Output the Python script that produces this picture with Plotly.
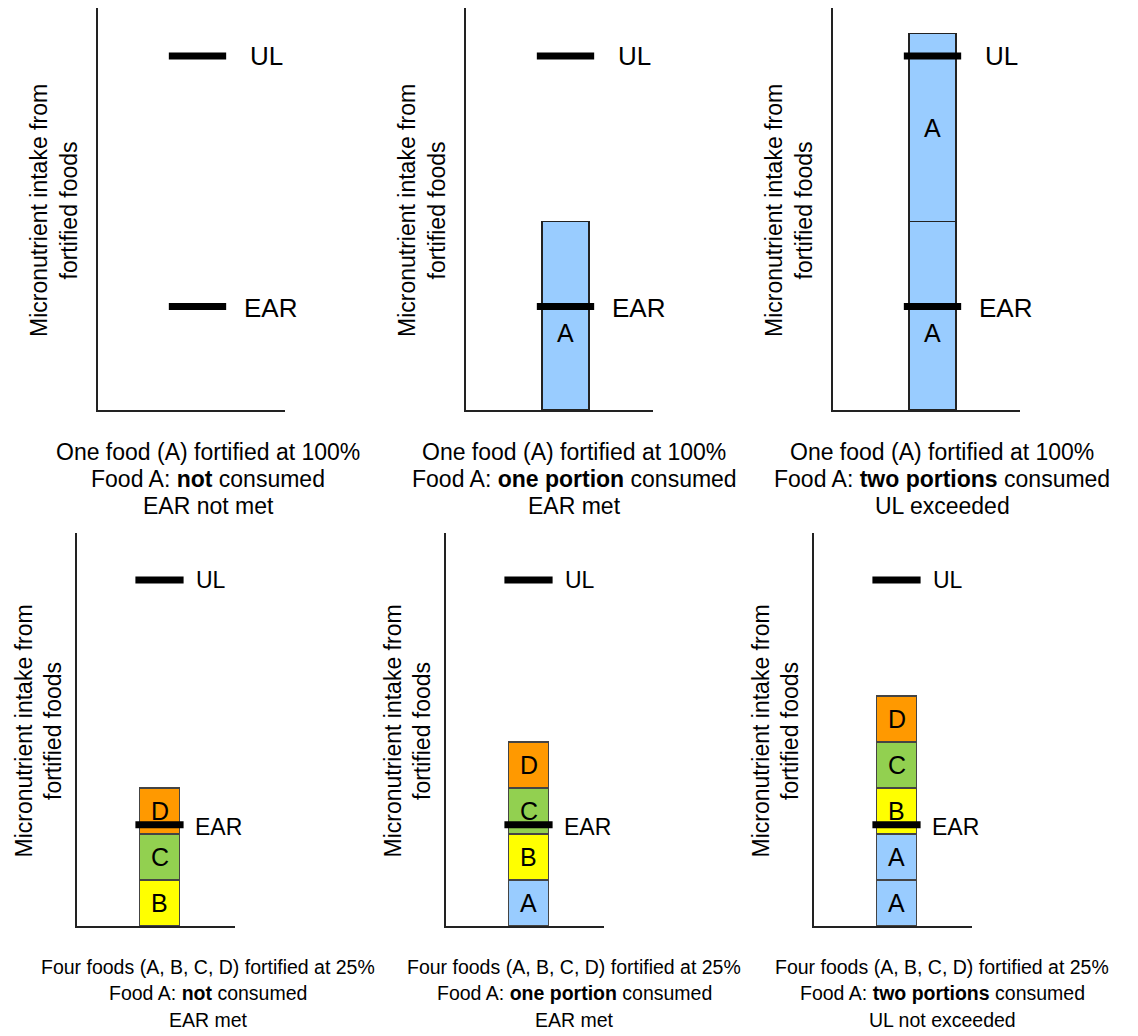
import plotly.graph_objects as go

W, H = 1138, 1036
OFF = 8  # page body margin in the browser
FW, FH = W - OFF, H - OFF

# ---------------- data ----------------
FOOD_COLORS = {"A": "#99CCFF", "B": "#FFFF00", "C": "#92D050", "D": "#FF9900"}
EAR = 55          # estimated average requirement (relative units, 1 portion of A at 100% = 100)
UL = 188          # tolerable upper intake level
Y_MAX = 213.5

panel_foods = [
    [],
    ["A"],
    ["A", "A"],
    ["B", "C", "D"],
    ["A", "B", "C", "D"],
    ["A", "A", "B", "C", "D"],
]
panel_values = [
    [],
    [100],
    [100, 100],
    [25, 25, 25],
    [25, 25, 25, 25],
    [25, 25, 25, 25, 25],
]
subtitle_line1 = ["One food (A) fortified at 100%"] * 3 + \
                 ["Four foods (A, B, C, D) fortified at 25%"] * 3
subtitle_line2 = [
    "Food A: <b>not</b> consumed",
    "Food A: <b>one portion</b> consumed",
    "Food A: <b>two portions</b> consumed",
    "Food A: <b>not</b> consumed",
    "Food A: <b>one portion</b> consumed",
    "Food A: <b>two portions</b> consumed",
]
subtitle_line3 = ["EAR not met", "EAR met", "UL exceeded",
                  "EAR met", "EAR met", "UL not exceeded"]
y_title = "Micronutrient intake from<br>fortified foods"

# ---------------- layout constants (page pixels) ----------------
axis_left = [98, 466, 833, 77, 446, 814]
axis_width = [187, 187, 187, 158, 158, 158]
row_top = [8, 8, 8, 533, 533, 533]
row_bottom = [410, 410, 410, 926, 926, 926]
bar_center_rel = [99.5] * 3 + [82.5] * 3
bar_width_px = [47] * 3 + [39.5] * 3
ytitle_off = [44] * 3 + [39] * 3
sub_cx = [208, 574, 942] * 2
sub_y = [[452, 479, 506]] * 3 + [[967, 993, 1020]] * 3
ul_label_px = [150] * 3 + [116.5] * 3
ear_label_px = [144] * 3 + [116] * 3

ARIAL = "Liberation Sans, Arial, sans-serif"


def px_x(px):
    return min(1.0, max(0.0, (px - OFF) / FW))


def px_y(px):
    return min(1.0, max(0.0, 1 - (px - OFF) / FH))


fig = go.Figure()
annotations = []
layout = {}

for i in range(6):
    n = "" if i == 0 else str(i + 1)
    xa, ya = "x" + n, "y" + n
    top_row = i < 3
    ppu = bar_width_px[i]  # pixels per x unit (bar width = 1 unit)
    x_lo = -bar_center_rel[i] / ppu
    x_hi = (axis_width[i] - bar_center_rel[i]) / ppu
    line_col = "#222222" if top_row else "#444444"
    layout["xaxis" + n] = dict(
        domain=[px_x(axis_left[i]), px_x(axis_left[i] + axis_width[i])],
        range=[x_lo, x_hi], anchor=ya, showline=True, linecolor="#222222",
        linewidth=1.5, showticklabels=False, ticks="", showgrid=False,
        zeroline=False, fixedrange=True,
    )
    layout["yaxis" + n] = dict(
        domain=[px_y(row_bottom[i]), px_y(row_top[i])],
        range=[0, Y_MAX], anchor=xa, showline=True, linecolor="#222222",
        linewidth=1.5, showticklabels=False, ticks="", showgrid=False,
        zeroline=False, fixedrange=True,
    )

    seg_font = dict(family=ARIAL, size=25, color="black")
    lbl_font = dict(family=ARIAL, size=26 if top_row else 23, color="black")

    base = 0
    for food, v in zip(panel_foods[i], panel_values[i]):
        fig.add_trace(go.Bar(
            x=[0], y=[v], width=[1], xaxis=xa, yaxis=ya,
            marker=dict(color=FOOD_COLORS[food], line=dict(color=line_col, width=1.2)),
            hoverinfo="skip", showlegend=False,
        ))
        center = base + v / 2
        if base + 0.25 * v < EAR < base + 0.75 * v:
            center = min(center, EAR - 0.14 * v)
        annotations.append(dict(
            x=0, y=center, xref=xa, yref=ya, text=food, showarrow=False,
            xanchor="center", yanchor="middle", font=seg_font,
        ))
        base += v

    half = 0.61
    for level, name, lpx in ((EAR, "EAR", ear_label_px[i]), (UL, "UL", ul_label_px[i])):
        fig.add_trace(go.Scatter(
            x=[-half, half], y=[level, level], xaxis=xa, yaxis=ya, mode="lines",
            line=dict(color="black", width=7), hoverinfo="skip", showlegend=False,
            cliponaxis=False,
        ))
        annotations.append(dict(
            x=(lpx - bar_center_rel[i]) / ppu, y=level, xref=xa, yref=ya, text=name,
            showarrow=False, xanchor="left", yanchor="middle", font=lbl_font,
            yshift=-2 if name == "EAR" else 0,
        ))

    # y axis title
    annotations.append(dict(
        x=px_x(axis_left[i] - ytitle_off[i]),
        y=px_y((row_top[i] + row_bottom[i]) / 2 + 2),
        xref="paper", yref="paper", text=y_title, textangle=-90, showarrow=False,
        xanchor="center", yanchor="middle",
        font=dict(family=ARIAL, size=23, color="black"),
    ))

    # subtitles
    sub_font = dict(family=ARIAL, size=23 if top_row else 19.5, color="black")
    for txt, ypx in zip((subtitle_line1[i], subtitle_line2[i], subtitle_line3[i]), sub_y[i]):
        annotations.append(dict(
            x=px_x(sub_cx[i]), y=px_y(ypx), xref="paper", yref="paper", text=txt,
            showarrow=False, xanchor="center", yanchor="middle", font=sub_font,
        ))

fig.update_layout(
    width=FW, height=FH, margin=dict(l=0, r=0, t=0, b=0),
    paper_bgcolor="white", plot_bgcolor="white",
    barmode="stack", showlegend=False, annotations=annotations,
    **layout,
)

fig.write_html("out.html")
